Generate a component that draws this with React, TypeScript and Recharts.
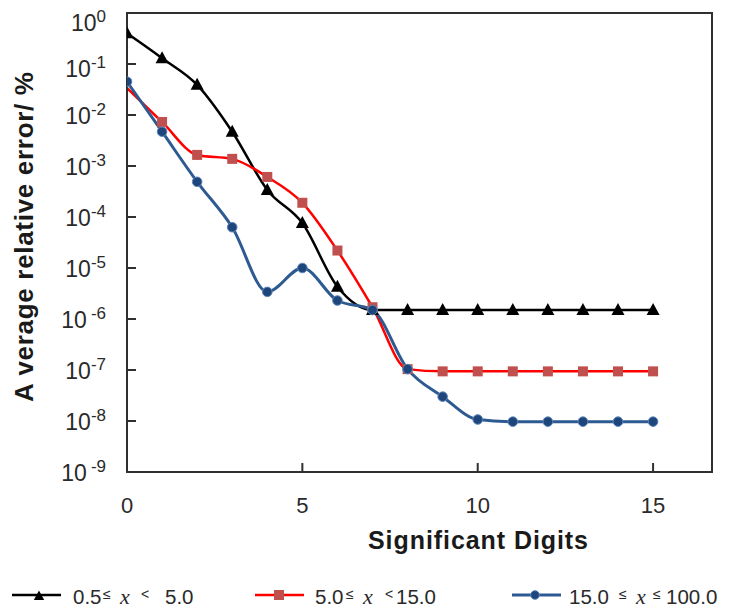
import React from 'react';
import { LineChart, Line, XAxis, YAxis, ReferenceArea } from 'recharts';

// Significant digits (x axis)
const digits = [0, 1, 2, 3, 4, 5, 6, 7, 8, 9, 10, 11, 12, 13, 14, 15];
// 0.5 ≤ x < 5.0
const seriesLow = [0.4, 0.13, 0.039, 0.0047, 3.4e-4, 7.6e-5, 4.3e-6, 1.5e-6, 1.5e-6, 1.5e-6, 1.5e-6, 1.5e-6, 1.5e-6, 1.5e-6, 1.5e-6, 1.5e-6];
// 5.0 ≤ x < 15.0
const seriesMid = [0.034, 0.0073, 0.00165, 0.00138, 6.1e-4, 1.9e-4, 2.2e-5, 1.7e-6, 1.04e-7, 9.4e-8, 9.4e-8, 9.4e-8, 9.4e-8, 9.4e-8, 9.4e-8, 9.4e-8];
// 15.0 ≤ x ≤ 100.0
const seriesHigh = [0.045, 0.0047, 4.9e-4, 6.3e-5, 3.4e-6, 1.0e-5, 2.3e-6, 1.5e-6, 1.04e-7, 3.0e-8, 1.07e-8, 9.7e-9, 9.7e-9, 9.7e-9, 9.7e-9, 9.7e-9];

const xTicks = [0, 5, 10, 15];
const yTicks = [1, 1e-1, 1e-2, 1e-3, 1e-4, 1e-5, 1e-6, 1e-7, 1e-8, 1e-9];
const xTitle = 'Significant Digits';
const yTitle = 'A verage relative error/ %';

const data = digits.map((d, i) => ({
  digit: d,
  low: seriesLow[i],
  mid: seriesMid[i],
  high: seriesHigh[i],
}));

const FONT = "'Liberation Sans', Arial, sans-serif";
const SERIF = "'Liberation Serif', 'Times New Roman', serif";
const TXT = '#2a2a2a';
const AXIS = '#303030';

const BLACK = '#000000';
const RED = '#FF0000';
const RED_MARK = '#C0504D';
const BLUE = '#2E5A92';
const BLUE_MARK = '#1F467A';

const Triangle = ({ cx, cy, s = 1 }: any) => (
  <polygon
    points={`${cx},${cy - 7 * s} ${cx - 6.5 * s},${cy + 5 * s} ${cx + 6.5 * s},${cy + 5 * s}`}
    fill={BLACK}
  />
);
const Square = ({ cx, cy, s = 1 }: any) => (
  <rect x={cx - 5 * s} y={cy - 5 * s} width={10 * s} height={10 * s} fill={RED_MARK} />
);
const Circle = ({ cx, cy, s = 1 }: any) => (
  <circle cx={cx} cy={cy} r={4.8 * s} fill={BLUE_MARK} stroke="#5C86BC" strokeWidth={1} />
);

const triDot = (p: any) => <Triangle key={`t-${p.index}`} cx={p.cx} cy={p.cy} />;
const sqDot = (p: any) =>
  p.index === 0 ? <g key={`s-${p.index}`} /> : <Square key={`s-${p.index}`} cx={p.cx} cy={p.cy} />;
const ciDot = (p: any) => <Circle key={`c-${p.index}`} cx={p.cx} cy={p.cy} />;

const YTick = (props: any) => {
  const { x, y, payload } = props;
  const exp = Math.round(Math.log10(payload.value));
  const gap = exp === -6 || exp === -9 ? 4 : 0;
  const shift = exp === 0 ? 9 : exp === -1 ? 4 : 0;
  return (
    <g>
      <line x1={x} x2={x + 9} y1={y} y2={y} stroke={AXIS} strokeWidth={2} />
      <text x={x - 21} y={y + 9 + shift} textAnchor="end" fontFamily={FONT} fontSize={23} fill={TXT}>
        <tspan>10</tspan>
        <tspan dx={gap} dy={-9} fontSize={17}>{String(exp)}</tspan>
      </text>
    </g>
  );
};

const XTick = (props: any) => {
  const { x, y, payload } = props;
  return (
    <g>
      <line x1={x} x2={x} y1={y} y2={y - 9} stroke={AXIS} strokeWidth={2} />
      <text x={x} y={y + 41} textAnchor="middle" fontFamily={FONT} fontSize={22} fill={TXT}>
        {payload.value}
      </text>
    </g>
  );
};

const legendItems = [
  { name: 'low', color: BLACK, width: 2.5, marker: 'tri', lx: 12, parts: [['0.5', 73, 'n'], ['≤', 103, 's'], ['x', 120, 'i'], ['<', 141, 's'], ['5.0', 165, 'n']] },
  { name: 'mid', color: RED, width: 2.5, marker: 'sq', lx: 255, parts: [['5.0', 315, 'n'], ['≤', 346, 's'], ['x', 363, 'i'], ['<', 385, 's'], ['15.0', 396, 'n']] },
  { name: 'high', color: BLUE, width: 3, marker: 'ci', lx: 512, parts: [['15.0', 569, 'n'], ['≤', 619, 's'], ['x', 636, 'i'], ['≤', 653, 's'], ['100.0', 666, 'n']] },
];

const Overlay = () => (
  <svg width={729} height={610} style={{ position: 'absolute', left: 0, top: 0, pointerEvents: 'none' }}>
    <text
      x={33}
      y={237}
      transform="rotate(-90 33 237)"
      textAnchor="middle"
      fontFamily={FONT}
      fontWeight="bold"
      fontSize={26}
      fill="#1a1a1a"
      textLength={330}
      lengthAdjust="spacing"
    >
      {yTitle}
    </text>
    <text
      x={478}
      y={549}
      textAnchor="middle"
      fontFamily={FONT}
      fontWeight="bold"
      fontSize={25}
      fill="#1a1a1a"
      textLength={220}
      lengthAdjust="spacing"
    >
      {xTitle}
    </text>
    {legendItems.map((it) => {
      const cx = it.lx + 24;
      return (
        <g key={it.name}>
          <line x1={it.lx} x2={it.lx + 49} y1={595} y2={595} stroke={it.color} strokeWidth={it.width} />
          {it.marker === 'tri' && <Triangle cx={cx + 3} cy={596} s={0.8} />}
          {it.marker === 'sq' && <Square cx={cx} cy={595} s={1} />}
          {it.marker === 'ci' && <Circle cx={cx - 1} cy={595} s={0.9} />}
          <text fontFamily={FONT} fontSize={20} fill={TXT}>
            {it.parts.map(([t, x, k]: any, i: number) => (
              <tspan
                key={i}
                x={x}
                y={k === 's' ? 599 : 604}
                fontSize={k === 's' ? 14 : k === 'i' ? 22 : 20.5}
                fontFamily={k === 'i' ? SERIF : FONT}
                fontStyle={k === 'i' ? 'italic' : 'normal'}
              >
                {t}
              </tspan>
            ))}
          </text>
        </g>
      );
    })}
  </svg>
);

export default function App() {
  return (
    <div style={{ position: 'absolute', left: 0, top: 0, width: 729, height: 610, background: '#fff' }}>
      <LineChart width={729} height={610} data={data} margin={{ top: 13, right: 17, left: 0, bottom: 0 }}>
        <XAxis
          dataKey="digit"
          type="number"
          domain={[0, 16.68]}
          ticks={xTicks}
          allowDataOverflow
          height={138}
          tickSize={0}
          tickMargin={0}
          tickLine={false}
          axisLine={{ stroke: AXIS, strokeWidth: 2 }}
          tick={<XTick />}
          interval={0}
        />
        <YAxis
          scale="log"
          type="number"
          domain={[1e-9, 1]}
          ticks={yTicks}
          allowDataOverflow
          width={127}
          tickSize={0}
          tickMargin={0}
          tickLine={false}
          axisLine={{ stroke: AXIS, strokeWidth: 2 }}
          tick={<YTick />}
          interval={0}
        />
        <ReferenceArea x1={0} x2={16.68} y1={1e-9} y2={1} fill="none" stroke={AXIS} strokeWidth={2} ifOverflow="visible" />
        <Line dataKey="low" type="monotone" stroke={BLACK} strokeWidth={2.5} dot={triDot} activeDot={false} isAnimationActive={false} />
        <Line dataKey="mid" type="monotone" stroke={RED} strokeWidth={2.5} dot={sqDot} activeDot={false} isAnimationActive={false} />
        <Line dataKey="high" type="monotone" stroke={BLUE} strokeWidth={3} dot={ciDot} activeDot={false} isAnimationActive={false} />
      </LineChart>
      <Overlay />
    </div>
  );
}
